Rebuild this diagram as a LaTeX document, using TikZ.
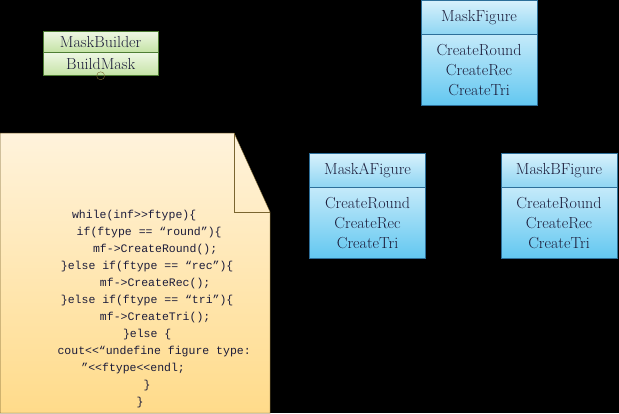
\documentclass[tikz,border=0pt]{standalone}
\usepackage{fontspec}
\newfontfamily\codefont{Liberation Mono}
\usetikzlibrary{positioning}

\definecolor{greentop}{HTML}{EEF7E4}
\definecolor{greenbot}{HTML}{C5E3A5}
\definecolor{greenline}{HTML}{4E7D34}
\definecolor{bluetop}{HTML}{D8F1FC}
\definecolor{bluemid}{HTML}{8FD6F3}
\definecolor{bluebody}{HTML}{C4EAFA}
\definecolor{bluebot}{HTML}{62C7F0}
\definecolor{blueline}{HTML}{2D6F9A}
\definecolor{notetop}{HTML}{FFF3DC}
\definecolor{notebot}{HTML}{FFDB8A}
\definecolor{noteline}{HTML}{7A6530}
\definecolor{inktext}{HTML}{1C1C3A}

\tikzset{
  boxfont/.style={font=\rmfamily\fontsize{16}{20}\selectfont, text=inktext},
  greenhead/.style={boxfont, draw=greenline, top color=greentop, bottom color=greenbot,
    minimum width=115pt, inner sep=0pt},
  bluehead/.style={boxfont, draw=blueline, top color=bluetop, bottom color=bluemid,
    minimum width=116pt, minimum height=34pt, inner sep=0pt},
  bluebody/.style={boxfont, draw=blueline, top color=bluebody, bottom color=bluebot,
    minimum width=116pt, minimum height=71pt, inner sep=0pt, align=center},
  code/.style={font=\codefont\fontsize{11.5}{17}\selectfont, text=inktext, inner sep=0pt}
}

\begin{document}
\begin{tikzpicture}[x=1pt,y=-1pt]
\fill[black] (0,0) rectangle (619,413);

% builder
\node[greenhead, minimum height=21pt] (mb) at (100.5,41.5) {MaskBuilder};
\node[greenhead, minimum height=23pt, below=0pt of mb] (mbb) {BuildMask};
\draw[noteline] (mbb.south) circle [radius=4pt];

% figures
\node[bluehead] (mf) at (479,17) {MaskFigure};
\node[bluebody, below=0pt of mf] (mfb) {CreateRound\\CreateRec\\CreateTri};
\node[bluehead] (ma) at (367.5,170) {MaskAFigure};
\node[bluebody, below=0pt of ma] (mab) {CreateRound\\CreateRec\\CreateTri};
\node[bluehead] (mbf) at (559,170) {MaskBFigure};
\node[bluebody, below=0pt of mbf] (mbfb) {CreateRound\\CreateRec\\CreateTri};

% note
\path[draw=noteline, top color=notetop, bottom color=notebot]
  (0,133) -- (234,133) -- (270,212) -- (270,413) -- (0,413) -- cycle;
\draw[noteline] (234,133) -- (234,212) -- (270,212);
\node[code] (c1) at (134,215) {while(inf>>ftype)\{};
\node[code] (c2) at (149,232) {if(ftype == “round”)\{};
\node[code] (c3) at (155,249) {mf->CreateRound();};
\node[code] (c4) at (147,266) {\}else if(ftype == “rec”)\{};
\node[code] (c5) at (155,283) {mf->CreateRec();};
\node[code] (c6) at (147,300) {\}else if(ftype == “tri”)\{};
\node[code] (c7) at (155,317) {mf->CreateTri();};
\node[code] (c8) at (147,334) {\}else \{};
\node[code] (c9) at (154,351) {cout<<“undefine figure type:};
\node[code] (c10) at (133,368) {”<<ftype<<endl;};
\node[code] (c11) at (147,385) {\}};
\node[code] (c12) at (140,402) {\}};
\end{tikzpicture}
\end{document}
